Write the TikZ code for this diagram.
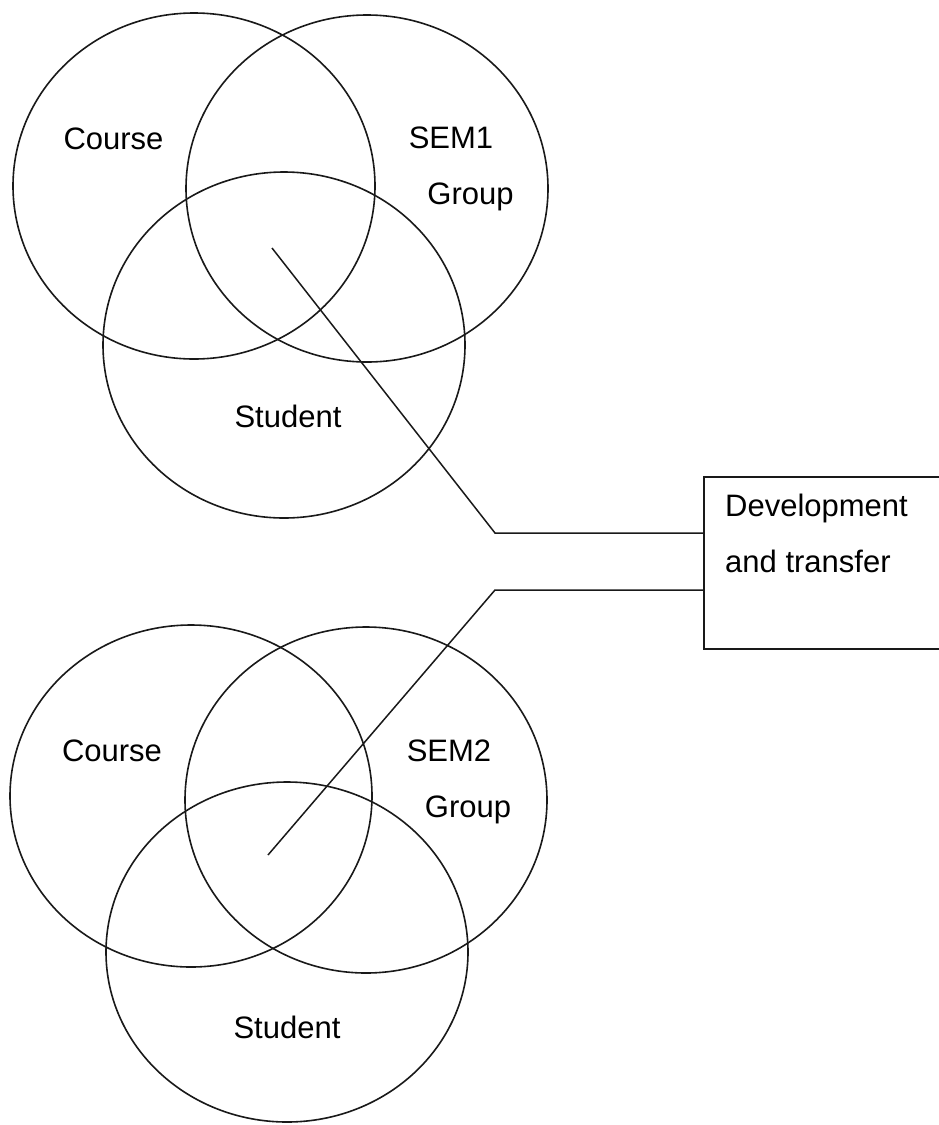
\documentclass[tikz,border=0pt]{standalone}
\usepackage{fontspec}
\setmainfont{Liberation Sans}
\begin{document}
\begin{tikzpicture}[x=1pt,y=-1pt,
  venn/.style={draw=black!90, line width=1.6pt},
  lbl/.style={font=\fontsize{31}{37}\selectfont, anchor=base, inner sep=0pt},
  conn/.style={draw=black!90, line width=1.5pt},
  boxstyle/.style={draw=black!90, line width=1.6pt, minimum width=250pt, minimum height=172pt, anchor=north west, inner sep=0pt}]
\useasboundingbox (0,0) rectangle (939,1125);
% top Venn
\draw[venn] (194,186) ellipse [x radius=181, y radius=173];
\draw[venn] (367,188.5) ellipse [x radius=181, y radius=173.5];
\draw[venn] (284,345) ellipse [x radius=181, y radius=173];
\node[lbl] (course1) at (113.5,149.5) {Course};
\node[lbl] (sem1) at (451,148) {SEM1};
\node[lbl] (group1) at (470.5,204) {Group};
\node[lbl] (student1) at (288,427) {Student};
% bottom Venn
\draw[venn] (191,796) ellipse [x radius=181, y radius=171];
\draw[venn] (366,800) ellipse [x radius=181, y radius=173];
\draw[venn] (287,952) ellipse [x radius=181, y radius=170];
\node[lbl] (course2) at (112,761.5) {Course};
\node[lbl] (sem2) at (449,761.5) {SEM2};
\node[lbl] (group2) at (468,817.5) {Group};
\node[lbl] (student2) at (287,1038) {Student};
% box
\node[boxstyle] (box) at (703,476) {};
\node[lbl, anchor=base west] (dev) at (725,516) {Development};
\node[lbl, anchor=base west] (transfer) at (725,572) {and transfer};
% connectors
\coordinate (p1) at (272,248);
\coordinate (c1) at (495,533);
\coordinate (p2) at (268,855);
\coordinate (c2) at (495,590);
\draw[conn] (p1) -- (c1) -- (c1 -| box.west);
\draw[conn] (p2) -- (c2) -- (c2 -| box.west);
\end{tikzpicture}
\end{document}
